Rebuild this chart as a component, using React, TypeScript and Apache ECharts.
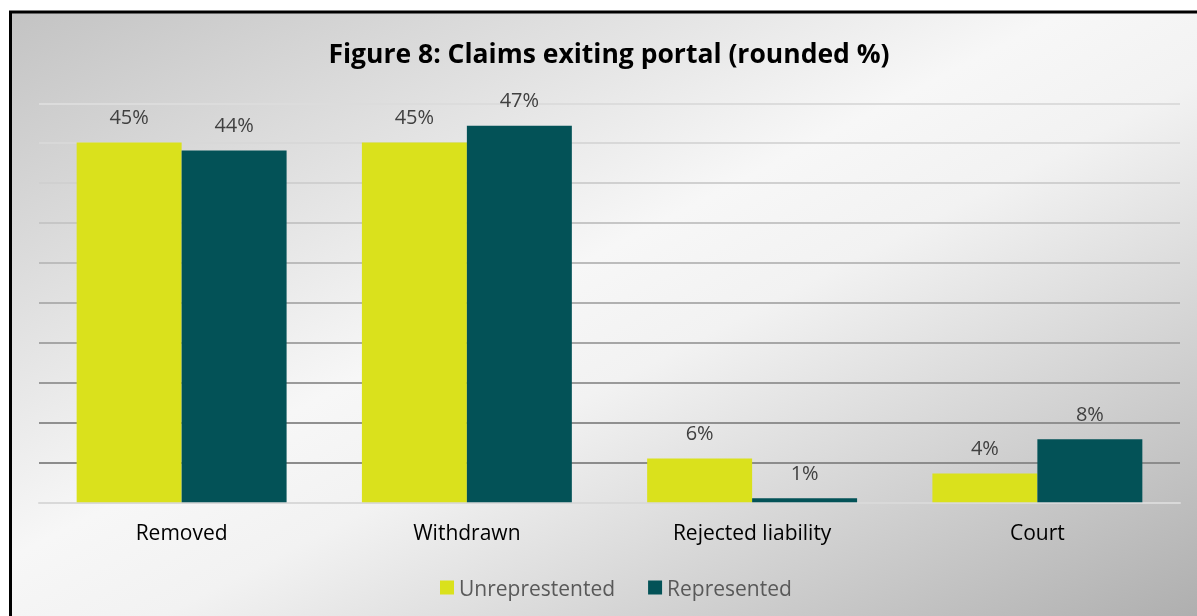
import React, { useEffect, useRef } from "react";
import * as echarts from "echarts";

const categories = ["Removed", "Withdrawn", "Rejected liability", "Court"];
const unrepresented = [45.1, 45.1, 5.5, 3.6];
const represented = [44.1, 47.2, 0.5, 7.9];
const seriesNames = ["Unreprestented", "Represented"];
const titleText = "Figure 8: Claims exiting portal (rounded %)";

const FONT = "'Open Sans', 'Noto Sans', sans-serif";

export default function App() {
  const ref = useRef<HTMLDivElement>(null);
  useEffect(() => {
    if (!ref.current) return;
    const chart = echarts.init(ref.current, null, { renderer: "svg" });
    const bg = new echarts.graphic.LinearGradient(
      10, 12, 516, 991,
      [
        { offset: 0, color: "#c3c3c3" },
        { offset: 0.44, color: "#f7f7f7" },
        { offset: 0.55, color: "#f2f2f2" },
        { offset: 1, color: "#acacac" },
      ],
      true
    );
    const labelCfg = {
      show: true,
      position: "top",
      distance: 16,
      color: "#404040",
      fontSize: 20,
      fontFamily: FONT,
      formatter: (p: any) => Math.round(p.value) + "%",
    };
    chart.setOption({
      animation: false,
      textStyle: { fontFamily: FONT },
      graphic: [
        {
          type: "rect",
          z: -100,
          silent: true,
          shape: { x: 10.5, y: 12, width: 1200, height: 620 },
          style: { fill: bg, stroke: "#000", lineWidth: 3 },
        },
      ],
      title: {
        text: titleText,
        left: 604,
        textAlign: "center",
        top: 34,
        textStyle: { fontFamily: FONT, fontSize: 26.5, fontWeight: "bold", color: "#000" },
      },
      legend: {
        bottom: 13,
        left: 435,
        itemWidth: 14,
        itemHeight: 14,
        itemGap: 33,
        icon: "rect",
        textStyle: { fontFamily: FONT, fontSize: 21, color: "#595959" },
        data: seriesNames,
      },
      grid: { left: 39, right: 17, top: 103.3, bottom: 113.7, containLabel: false },
      xAxis: {
        type: "category",
        data: categories,
        axisTick: { show: false },
        axisLine: { show: true, lineStyle: { color: "#d9d9d9", width: 2 } },
        axisLabel: { color: "#000", fontSize: 21, fontFamily: FONT, margin: 19 },
      },
      yAxis: {
        type: "value",
        min: 0,
        max: 50,
        interval: 5,
        axisLabel: { show: false },
        axisLine: { show: false },
        axisTick: { show: false },
        splitLine: {
          lineStyle: {
            width: 2,
            color: [
              "#d9d9d9",
              "#8c8c8c",
              "#909090",
              "#9a9a9a",
              "#a6a6a6",
              "#b0b0b0",
              "#bcbcbc",
              "#c6c6c6",
              "#d0d0d0",
              "#d8d8d8",
              "#dcdcdc",
            ],
          },
        },
      },
      series: [
        {
          name: seriesNames[0],
          type: "bar",
          data: unrepresented,
          barWidth: "36.8%",
          barGap: "0%",
          itemStyle: { color: "#dae11c" },
          label: labelCfg,
        },
        {
          name: seriesNames[1],
          type: "bar",
          data: represented,
          barWidth: "36.8%",
          barGap: "0%",
          itemStyle: { color: "#035257" },
          label: labelCfg,
        },
      ],
    });
    return () => chart.dispose();
  }, []);
  return (
    <div
      ref={ref}
      style={{ position: "fixed", left: 0, top: 0, width: 1197, height: 616 }}
    />
  );
}
